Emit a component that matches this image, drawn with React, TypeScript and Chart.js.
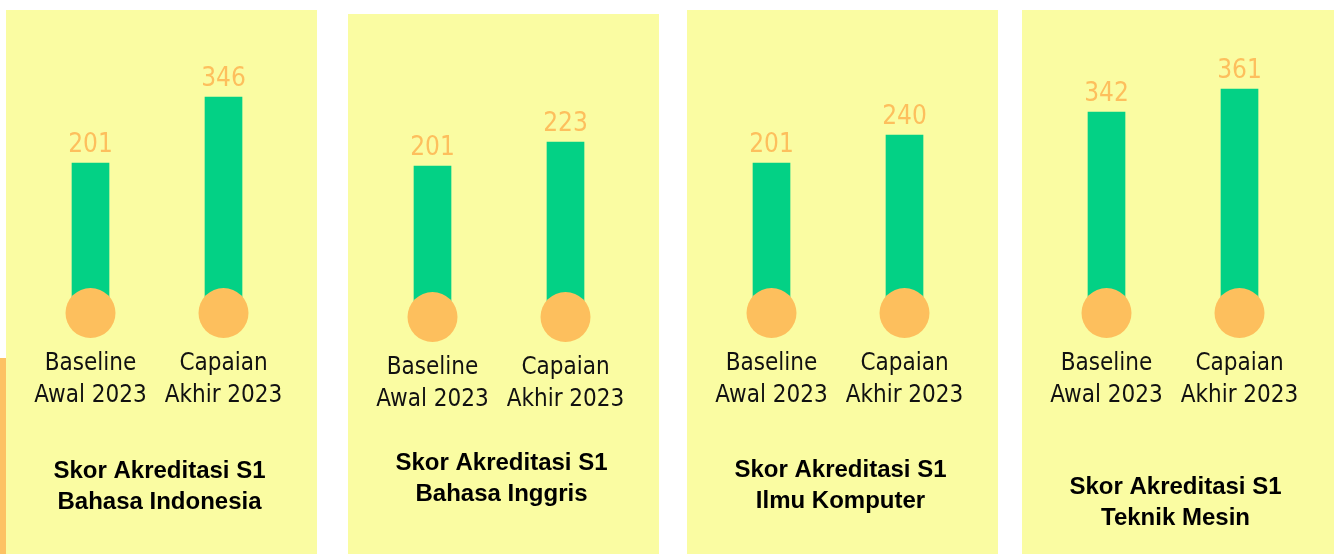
import { useEffect, useRef } from "react";
import { Chart, registerables } from "chart.js";

Chart.register(...registerables);

// ---- data ----
const categories: string[][] = [
  ["Baseline", "Awal 2023"],
  ["Capaian", "Akhir 2023"],
];
const panelTitles: string[][] = [
  ["Skor Akreditasi S1", "Bahasa Indonesia"],
  ["Skor Akreditasi S1", "Bahasa Inggris"],
  ["Skor Akreditasi S1", "Ilmu Komputer"],
  ["Skor Akreditasi S1", "Teknik Mesin"],
];
const baselineValues = [201, 201, 201, 342];
const capaianValues = [346, 223, 240, 361];
const axisMin = [-128.5, 62.6, -7.9, 176];
const axisMax = [449.3, 303.7, 358.4, 393.2];

// ---- layout / style ----
const panelLeft = [6, 348, 687, 1022];
const panelTop = [10, 14, 10, 10];
const panelWidth = [311, 311, 311, 312];
const titlePadTop = [12, 0, 11, 28];
const layoutPadBottom = [36.5, 44.5, 37.5, 20.5];

const YELLOW = "#FAFCA2";
const GREEN = "#03D185";
const ORANGE = "#FDBF5D";
const LABEL_FONT = "'DejaVu Sans Condensed', 'DejaVu Sans', sans-serif";
const TITLE_FONT = "'Liberation Sans', Arial, sans-serif";

const valueLabelPlugin = {
  id: "valueLabels",
  afterDatasetsDraw(chart: any) {
    const ctx = chart.ctx;
    const meta = chart.getDatasetMeta(0);
    const ds = chart.data.datasets[0];
    ctx.save();
    ctx.font = `26px ${LABEL_FONT}`;
    ctx.fillStyle = ORANGE;
    ctx.textAlign = "center";
    ctx.textBaseline = "alphabetic";
    meta.data.forEach((el: any, i: number) => {
      ctx.fillText(String(ds.data[i]), el.x, el.y - 11);
    });
    ctx.restore();
  },
};

function Panel({ idx }: { idx: number }) {
  const ref = useRef<HTMLCanvasElement | null>(null);
  const h = 554 - panelTop[idx];
  useEffect(() => {
    if (!ref.current) return;
    const min = axisMin[idx];
    const chart = new Chart(ref.current, {
      type: "bar",
      data: {
        labels: categories,
        datasets: [
          {
            type: "bar",
            data: [baselineValues[idx], capaianValues[idx]],
            base: min,
            backgroundColor: GREEN,
            barThickness: 37,
            order: 1,
          } as any,
          {
            type: "line",
            data: categories.map(() => min),
            showLine: false,
            pointRadius: 25,
            pointHoverRadius: 25,
            pointBackgroundColor: ORANGE,
            pointBorderWidth: 0,
            borderColor: "transparent",
            clip: false,
            order: 0,
          } as any,
        ],
      },
      options: {
        responsive: false,
        animation: false,
        events: [],
        layout: {
          autoPadding: false,
          padding: { top: 40, left: 18, right: 22, bottom: layoutPadBottom[idx] },
        },
        plugins: {
          legend: { display: false },
          tooltip: { enabled: false },
          title: {
            display: true,
            position: "bottom",
            text: panelTitles[idx],
            color: "#000",
            font: { family: TITLE_FONT, size: 24, weight: "bold", lineHeight: 31 / 24 },
            padding: { top: titlePadTop[idx], bottom: 0 },
          },
        },
        scales: {
          x: {
            type: "category",
            offset: true,
            grid: { display: false, drawTicks: false },
            border: { display: false },
            ticks: {
              color: "#111",
              font: { family: LABEL_FONT, size: 24, lineHeight: 32 / 24 },
              padding: 35,
              maxRotation: 0,
              minRotation: 0,
              autoSkip: false,
            },
            afterFit: (s: any) => {
              s.paddingLeft = 0;
              s.paddingRight = 0;
              s.height = 130.5;
            },
          },
          y: {
            type: "linear",
            position: "right",
            min: min,
            max: axisMax[idx],
            grid: { display: false, drawTicks: false },
            border: { display: false },
            ticks: { display: false },
            afterFit: (s: any) => {
              s.width = 5;
            },
          },
        },
      },
      plugins: [valueLabelPlugin],
    });
    return () => chart.destroy();
  }, [idx]);
  return (
    <div
      style={{
        position: "absolute",
        left: panelLeft[idx],
        top: panelTop[idx],
        width: panelWidth[idx],
        height: h,
        background: YELLOW,
      }}
    >
      <canvas ref={ref} width={311} height={h} style={{ display: "block" }} />
    </div>
  );
}

export default function App() {
  return (
    <div
      style={{
        position: "absolute",
        left: 0,
        top: 0,
        width: 1334,
        height: 554,
        background: "#fff",
        overflow: "hidden",
      }}
    >
      <div
        style={{
          position: "absolute",
          left: 0,
          top: 358,
          width: 6,
          height: 196,
          background: "#FDC263",
        }}
      />
      {panelTitles.map((_, i) => (
        <Panel key={i} idx={i} />
      ))}
    </div>
  );
}
